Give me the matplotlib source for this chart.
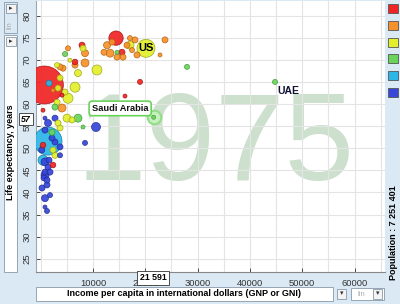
import numpy as np
import matplotlib.pyplot as plt
from matplotlib.patches import Rectangle
from matplotlib.ticker import MultipleLocator

plt.rcParams['font.family'] = ['Liberation Sans', 'DejaVu Sans']

# --- data (1975) ---
year = '1975'

asia_income = [700, 14400, 15540, 18990, 16120, 7900, 6560, 4070, 440, 440, 2350]
asia_life = [64.3, 74.9, 71.7, 65.0, 61.8, 73.3, 69.5, 62.0, 58.6, 50.7, 46.2]
asia_pop = [910, 130, 23, 16, 10, 23, 20, 10, 10, 20, 20]

europe_income = [17070, 18030, 12680, 13250, 15740, 14590, 23770, 22810, 5220, 8470,
                 6560, 8470, 3690, 4260, 2350, 4070, 16500, 13630, 17460, 18410, 12100]
europe_life = [74.9, 74.5, 73.3, 71.5, 70.6, 70.6, 74.5, 71.1, 72.6, 71.5,
               68.8, 69.3, 68.4, 68.1, 63.1, 59.1, 73.3, 74.0, 72.2, 71.1, 71.7]
europe_pop = [16, 23, 31, 40, 23, 23, 23, 10, 16, 31,
              23, 40, 23, 23, 10, 40, 23, 23, 16, 23, 23]

america_income = [20130, 17070, 10760, 8090, 5600, 3120, 7130, 3690, 6560, 3310,
                  5220, 4650, 3120, 5030, 5980, 3310, 3690, 2350, 2730]
america_life = [72.6, 73.3, 67.7, 72.6, 69.9, 68.8, 67.0, 65.9, 63.8, 63.6,
                61.3, 62.7, 60.4, 56.8, 56.4, 55.7, 54.6, 49.6, 48.4]
america_pop = [204, 40, 63, 23, 10, 16, 31, 23, 63, 23,
               63, 23, 23, 40, 23, 23, 23, 23, 23]

mena_income = [21591, 44800, 27970, 14590, 4650, 2730, 7130, 8090, 2160]
mena_life = [57, 65.0, 68.4, 71.7, 71.3, 59.3, 56.8, 54.8, 53.6]
mena_pop = [10, 16, 16, 10, 16, 23, 40, 10, 23]

south_asia_income = [1400, 1590, 440]
south_asia_life = [51.6, 64.7, 47.3]
south_asia_pop = [494, 23, 63]

africa_income = [10570, 8470, 820, 2730, 1400, 820, 2730, 3690, 3690, 820, 1400, 820,
                 820, 1200, 1200, 630, 820, 1780, 820, 1200, 2160, 200, 1780, 250, 1590]
africa_life = [54.8, 51.2, 56.8, 56.8, 55.7, 54.1, 51.4, 50.3, 48.4, 46.9, 45.7, 44.6,
               43.9, 42.8, 41.7, 43.3, 38.7, 39.4, 36.7, 35.8, 52.3, 49.6, 44.6, 41.0, 47.3]
africa_pop = [51, 16, 10, 23, 31, 23, 23, 23, 16, 40, 23, 23,
              40, 23, 23, 23, 31, 16, 10, 16, 23, 23, 23, 23, 23]

x_ticks = [10000, 20000, 30000, 40000, 50000, 60000]
y_ticks = [25, 30, 35, 40, 45, 50, 55, 60, 65, 70, 75, 80]

regions = [
    (asia_income, asia_life, asia_pop, '#f02424', '#a01010'),
    (europe_income, europe_life, europe_pop, '#f7922a', '#b0600f'),
    (america_income, america_life, america_pop, '#e2ef2a', '#98a214'),
    (mena_income, mena_life, mena_pop, '#6ad45a', '#3a9a30'),
    (south_asia_income, south_asia_life, south_asia_pop, '#2ab6e6', '#1278a0'),
    (africa_income, africa_life, africa_pop, '#3546d8', '#1e2a90'),
]

bg = '#dbe9f4'
fig = plt.figure(figsize=(4, 3.04), dpi=100, facecolor=bg)


def fx(px): return px / 400


def fy(py): return 1 - py / 304


ax = fig.add_axes([fx(36), fy(272), fx(385) - fx(36), fy(1) - fy(272)])
ax.set_facecolor('white')
ax.set_xlim(-900, 65830)
ax.set_ylim(22.0, 83.3)
ax.set_xticks(x_ticks)
ax.set_xticklabels([str(t) for t in x_ticks])
ax.xaxis.set_minor_locator(MultipleLocator(5000))
ax.set_yticks(y_ticks)
ax.grid(True, which='both', color='#e4e4e4', lw=0.8, zorder=0)
ax.set_axisbelow(True)
ax.tick_params(axis='x', labelsize=6.8, length=3, width=0.6, direction='in', pad=5, colors='#333333',
               which='major')
ax.tick_params(axis='x', which='minor', length=0)
ax.tick_params(axis='y', labelsize=6.8, length=3, width=0.6, direction='in', pad=3,
               labelrotation=90, colors='#333333')
for lbl in ax.get_yticklabels():
    lbl.set_va('center')
for s in ['top', 'right']:
    ax.spines[s].set_visible(False)
ax.spines['left'].set_color('#9aa8b4')
ax.spines['bottom'].set_color('#888888')

# watermark year
ax.text(0.515, 0.34, year, transform=ax.transAxes, fontsize=90, color='#cde0cd',
        ha='center', va='baseline', zorder=0.5)

# bubbles (all regions, large first)
xs, ys, ps, fcs, ecs = [], [], [], [], []
for inc, life, pop, fc, ec in regions:
    xs += inc
    ys += life
    ps += pop
    fcs += [fc] * len(inc)
    ecs += [ec] * len(inc)
order = np.argsort(ps)[::-1]
xs, ys, ps = np.array(xs)[order], np.array(ys)[order], np.array(ps)[order]
fcs = [fcs[i] for i in order]
ecs = [ecs[i] for i in order]

# selected country glow (Saudi Arabia)
ax.scatter([mena_income[0]], [mena_life[0]], s=95, color='#c6f0be', edgecolors='#94dc8a',
           lw=1.5, zorder=2)
ax.scatter(xs, ys, s=np.array(ps) * 0.82, c=fcs, edgecolors=ecs, linewidths=0.5, alpha=0.92, zorder=3)

ax.text(america_income[0], america_life[0], 'US', fontsize=8, fontweight='bold', ha='center',
        va='center', zorder=5, color='black')
ax.text(mena_income[1] + 500, mena_life[1] - 2.0, 'UAE', fontsize=7.5, fontweight='bold', ha='left',
        va='center', zorder=5, color='#111133')
ax.text(mena_income[0] - 1000, mena_life[0] + 2.0, 'Saudi Arabia', fontsize=6.7, fontweight='bold',
        ha='right', va='center', zorder=6, color='#111111',
        bbox=dict(boxstyle='round,pad=0.3', fc='white', ec='#6ad45a', lw=1.2))

# value boxes on the axes
fig.text(fx(153), fy(278), '21 591', fontsize=6.3, fontweight='bold', ha='center', va='center',
         zorder=10, bbox=dict(boxstyle='square,pad=0.25', fc='white', ec='#333333', lw=0.6))
fig.text(fx(26), fy(119), '57', fontsize=6.3, fontweight='bold', style='italic', ha='center', va='center',
         zorder=10, bbox=dict(boxstyle='square,pad=0.2', fc='white', ec='#333333', lw=0.6))

# x-axis label box and selectors
fig.patches.append(Rectangle((fx(36), fy(301)), fx(333) - fx(36), fy(287) - fy(301),
                             transform=fig.transFigure, fc='white', ec='#8899aa', lw=0.6))
fig.text(fx(184), fy(294), 'Income per capita in international dollars (GNP or GNI)', fontsize=6.5,
         fontweight='bold', ha='center', va='center')
fig.patches.append(Rectangle((fx(337), fy(299)), fx(346) - fx(337), fy(289) - fy(299),
                             transform=fig.transFigure, fc='#f4f4f4', ec='#8899aa', lw=0.6))
fig.text(fx(341.5), fy(294), '▾', fontsize=5, ha='center', va='center', color='#333333')
fig.patches.append(Rectangle((fx(351), fy(300)), fx(384) - fx(351), fy(288) - fy(300),
                             transform=fig.transFigure, fc='white', ec='#8899aa', lw=0.6))
fig.text(fx(361), fy(294), 'lin', fontsize=5.5, ha='center', va='center', color='#aaaaaa')
fig.patches.append(Rectangle((fx(373), fy(299)), fx(382) - fx(373), fy(289) - fy(299),
                             transform=fig.transFigure, fc='#f4f4f4', ec='#8899aa', lw=0.6))
fig.text(fx(377.5), fy(294), '▾', fontsize=5, ha='center', va='center', color='#333333')

# y-axis label box and selectors
fig.patches.append(Rectangle((fx(4), fy(33)), fx(17) - fx(4), fy(2) - fy(33),
                             transform=fig.transFigure, fc=bg, ec='#8899aa', lw=0.6))
fig.patches.append(Rectangle((fx(5.5), fy(13)), fx(15.5) - fx(5.5), fy(4) - fy(13),
                             transform=fig.transFigure, fc='#f4f4f4', ec='#8899aa', lw=0.6))
fig.text(fx(10.5), fy(8.5), '▸', fontsize=5, ha='center', va='center', color='#333333')
fig.text(fx(10.5), fy(25), 'lin', fontsize=5.5, ha='center', va='center', color='#aaaaaa', rotation=90)
fig.patches.append(Rectangle((fx(4), fy(272)), fx(17) - fx(4), fy(35) - fy(272),
                             transform=fig.transFigure, fc='white', ec='#8899aa', lw=0.6))
fig.patches.append(Rectangle((fx(5.5), fy(46)), fx(15.5) - fx(5.5), fy(37) - fy(46),
                             transform=fig.transFigure, fc='#f4f4f4', ec='#8899aa', lw=0.6))
fig.text(fx(10.5), fy(41.5), '▸', fontsize=5, ha='center', va='center', color='#333333')
fig.text(fx(10.5), fy(152), 'Life expectancy, years', fontsize=6.5, fontweight='bold',
         ha='center', va='center', rotation=90)

# colour legend on the right
for i, (_, _, _, fc, ec) in enumerate(regions):
    yc = 8.5 + i * 16.8
    fig.patches.append(Rectangle((fx(388), fy(yc + 4.5)), fx(398) - fx(388), fy(yc - 4.5) - fy(yc + 4.5),
                                 transform=fig.transFigure, fc=fc, ec='#555555', lw=0.6))

fig.text(fx(393), fy(233), 'Population : 7 251 401', fontsize=6.5, fontweight='bold',
         ha='center', va='center', rotation=90)

fig.savefig('out.png', dpi=100, facecolor=bg)
